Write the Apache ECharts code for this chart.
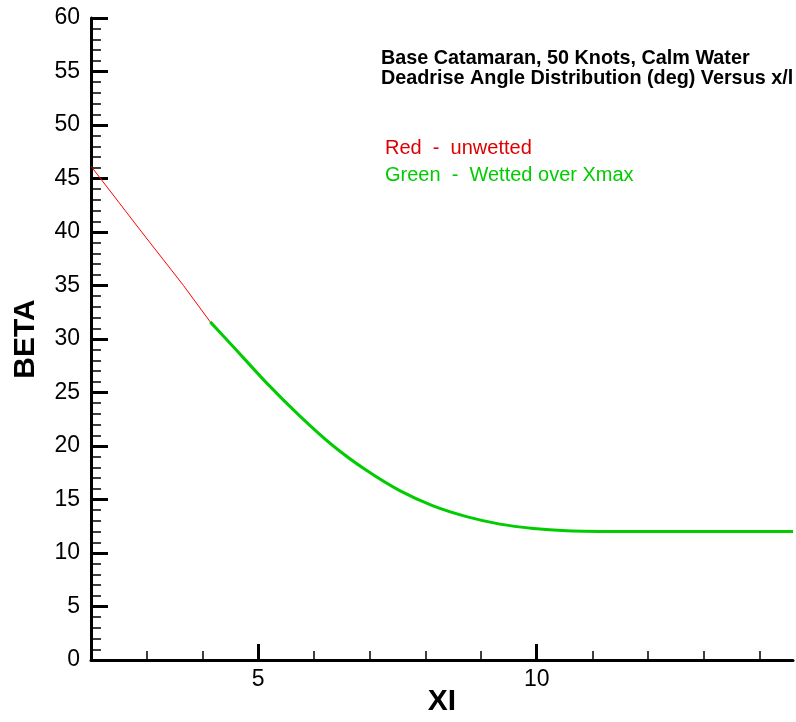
<!DOCTYPE html>
<html>
<head>
<meta charset="utf-8">
<script src="https://cdn.jsdelivr.net/npm/echarts@6/dist/echarts.min.js"></script>
<style>
  html, body { margin: 0; padding: 0; background: #fff; overflow: hidden; }
  #chart { width: 796px; height: 722px; }
</style>
</head>
<body>
<div id="chart"></div>
<script>
// Deadrise angle (deg) along the hull, unwetted part then wetted part
const xiUnwetted = [2.0, 2.5, 2.91, 3.3, 3.66, 4.14];
const betaUnwetted = [46.15, 42.77, 40.0, 37.4, 35.0, 31.6];

const xiWetted = [4.14, 4.55, 5.15, 5.75, 6.35, 6.95, 7.55, 8.14, 8.74, 9.34, 9.94, 10.54, 11.13, 12.0, 13.0, 14.6];
const betaWetted = [31.6, 29.3, 25.9, 22.8, 20.0, 17.7, 15.8, 14.4, 13.4, 12.7, 12.3, 12.08, 12.02, 12.0, 12.0, 12.0];

const xMajorTicks = [5, 10];
const xMinorTicks = [3, 4, 6, 7, 8, 9, 11, 12, 13, 14];

const titleLines = ['Base Catamaran, 50 Knots, Calm Water', 'Deadrise Angle Distribution (deg) Versus x/l'];
const noteRed = 'Red  -  unwetted';
const noteGreen = 'Green  -  Wetted over Xmax';

const FONT = '"Liberation Sans", Arial, sans-serif';
const RED = '#ff0000';
const GREEN = '#00cc00';

const pairs = (xs, ys) => xs.map((x, i) => [x, ys[i]]);

const chart = echarts.init(document.getElementById('chart'), null, { renderer: 'canvas' });

chart.setOption({
  animation: false,
  backgroundColor: '#ffffff',
  title: [
    {
      text: titleLines.join('\n'),
      left: 381, top: 49, padding: 0,
      textStyle: { fontFamily: FONT, fontWeight: 'bold', fontSize: 19.8, lineHeight: 20, color: '#000' }
    },
    {
      text: noteRed,
      left: 385, top: 138, padding: 0,
      textStyle: { fontFamily: FONT, fontWeight: 'normal', fontSize: 20, color: '#dd0000' }
    },
    {
      text: noteGreen,
      left: 385, top: 165, padding: 0,
      textStyle: { fontFamily: FONT, fontWeight: 'normal', fontSize: 20, color: GREEN }
    }
  ],
  grid: { left: 91, right: 3, top: 18, bottom: 62, containLabel: false, outerBoundsMode: 'none' },
  xAxis: [
    {
      type: 'value', min: 2, max: 14.6,
      name: 'XI', nameLocation: 'middle', nameGap: 27, nameMoveOverlap: false,
      nameTextStyle: { fontFamily: FONT, fontWeight: 'bold', fontSize: 30, color: '#000' },
      axisLine: { show: true, onZero: false, lineStyle: { color: '#000', width: 3 } },
      axisTick: { show: true, inside: true, length: 16, customValues: xMajorTicks, lineStyle: { color: '#000', width: 3 } },
      axisLabel: { show: true, customValues: xMajorTicks, margin: 8, fontFamily: FONT, fontSize: 23, color: '#000' },
      splitLine: { show: false }
    },
    {
      type: 'value', min: 2, max: 14.6, position: 'bottom',
      axisLine: { show: false, onZero: false },
      axisTick: { show: true, inside: true, length: 9, customValues: xMinorTicks, lineStyle: { color: '#000', width: 1.5 } },
      axisLabel: { show: false },
      splitLine: { show: false }
    }
  ],
  yAxis: {
    type: 'value', min: 0, max: 60, interval: 5,
    name: 'BETA', nameLocation: 'middle', nameGap: 50, nameRotate: 90, nameMoveOverlap: false,
    nameTextStyle: { fontFamily: FONT, fontWeight: 'bold', fontSize: 30, color: '#000' },
    axisLine: { show: true, onZero: false, lineStyle: { color: '#000', width: 3 } },
    axisTick: { show: true, inside: true, length: 17, lineStyle: { color: '#000', width: 3 } },
    minorTick: { show: true, splitNumber: 5, length: 10, lineStyle: { color: '#000', width: 1.5 } },
    axisLabel: { margin: 11, fontFamily: FONT, fontSize: 23, color: '#000' },
    splitLine: { show: false }
  },
  series: [
    {
      name: 'unwetted', type: 'line', xAxisIndex: 0,
      data: pairs(xiUnwetted, betaUnwetted),
      showSymbol: false, smooth: false,
      lineStyle: { color: RED, width: 1 }
    },
    {
      name: 'wetted', type: 'line', xAxisIndex: 0,
      data: pairs(xiWetted, betaWetted),
      showSymbol: false, smooth: 0.2,
      lineStyle: { color: GREEN, width: 3 }
    }
  ]
});
</script>
</body>
</html>
